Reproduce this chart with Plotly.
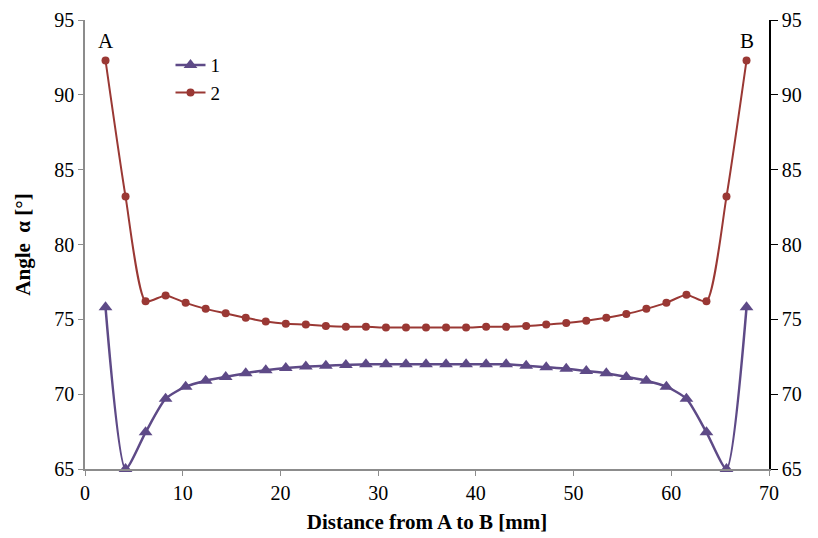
import plotly.graph_objects as go

# Distance along the section from A to B [mm]
distance_mm = [2.10, 4.15, 6.20, 8.25, 10.30, 12.35, 14.40, 16.45, 18.50, 20.55,
               22.60, 24.65, 26.70, 28.75, 30.80, 32.85, 34.90, 36.95, 39.00, 41.05,
               43.10, 45.15, 47.20, 49.25, 51.30, 53.35, 55.40, 57.45, 59.50, 61.55,
               63.60, 65.65, 67.70]

# Series 1 (triangles)
angle_1 = [75.8, 65.0, 67.45, 69.7, 70.5, 70.9, 71.15, 71.4, 71.6, 71.75,
           71.85, 71.9, 71.95, 72.0, 72.0, 72.0, 72.0, 72.0, 72.0, 72.0,
           72.0, 71.9, 71.8, 71.7, 71.55, 71.4, 71.15, 70.9, 70.5, 69.7,
           67.45, 65.0, 75.8]

# Series 2 (circles)
angle_2 = [92.3, 83.2, 76.2, 76.6, 76.1, 75.7, 75.4, 75.1, 74.85, 74.7,
           74.65, 74.55, 74.5, 74.5, 74.45, 74.45, 74.45, 74.45, 74.45, 74.5,
           74.5, 74.55, 74.65, 74.75, 74.9, 75.1, 75.35, 75.7, 76.1, 76.65,
           76.2, 83.2, 92.3]

series_names = ["1", "2"]
y_ticks = [65, 70, 75, 80, 85, 90, 95]
x_ticks = [0, 10, 20, 30, 40, 50, 60, 70]

SERIF = "Liberation Serif, Times New Roman, serif"
PURPLE = "#5E4A87"
RED = "#9A3834"
GRAY = "#8C8C8C"

fig = go.Figure()

fig.add_trace(go.Scatter(
    x=distance_mm, y=angle_1, name=series_names[0],
    mode="lines+markers",
    line=dict(color=PURPLE, width=2.5, shape="spline", smoothing=0.6),
    marker=dict(symbol="triangle-up", size=12, color=PURPLE),
    cliponaxis=False,
))
fig.add_trace(go.Scatter(
    x=distance_mm, y=angle_2, name=series_names[1],
    mode="lines+markers",
    line=dict(color=RED, width=2, shape="spline", smoothing=0.6),
    marker=dict(symbol="circle", size=8, color=RED),
    cliponaxis=False,
))

# Invisible trace carrying the right-hand axis
fig.add_trace(go.Scatter(x=[distance_mm[0]], y=[angle_2[0]], yaxis="y2",
                         mode="markers", marker=dict(opacity=0),
                         showlegend=False, hoverinfo="skip"))

# End labels A and B
fig.add_annotation(x=distance_mm[0], y=angle_2[0], text="A", showarrow=False,
                   yanchor="bottom", yshift=5, font=dict(family=SERIF, size=21, color="black"))
fig.add_annotation(x=distance_mm[-1], y=angle_2[-1], text="B", showarrow=False,
                   yanchor="bottom", yshift=5, font=dict(family=SERIF, size=21, color="black"))

tick_font = dict(family=SERIF, size=20, color="black")
title_font = dict(family=SERIF, size=21, color="black")

fig.update_layout(
    width=818, height=538,
    margin=dict(l=85, r=49, t=20, b=69),
    paper_bgcolor="white", plot_bgcolor="white",
    showlegend=True,
    legend=dict(x=0.125, y=0.942, xanchor="left", yanchor="top",
                font=dict(family=SERIF, size=19, color="black"),
                bgcolor="rgba(0,0,0,0)", tracegroupgap=0, itemwidth=30),
    xaxis=dict(range=[0, 70], tickvals=x_ticks, showgrid=False, zeroline=False,
               showline=True, linecolor=GRAY, linewidth=1.5,
               ticks="outside", tickcolor=GRAY, ticklen=5,
               tickfont=tick_font, automargin=False,
               title=dict(text="<b>Distance from A to B [mm]</b>",
                          font=title_font, standoff=12)),
    yaxis=dict(range=[65, 95], tickvals=y_ticks, showgrid=False, zeroline=False,
               showline=True, linecolor=GRAY, linewidth=1.5,
               ticks="outside", tickcolor=GRAY, ticklen=5,
               tickfont=tick_font, automargin=False,
               title=dict(text="<b>Angle  α [°]</b>",
                          font=title_font, standoff=18)),
    yaxis2=dict(range=[65, 95], tickvals=y_ticks, overlaying="y", side="right",
                showgrid=False, zeroline=False, automargin=False,
                showline=True, linecolor="black", linewidth=1.5,
                ticks="outside", tickcolor="black", ticklen=7,
                tickfont=tick_font),
)

fig.write_html("out.html")
